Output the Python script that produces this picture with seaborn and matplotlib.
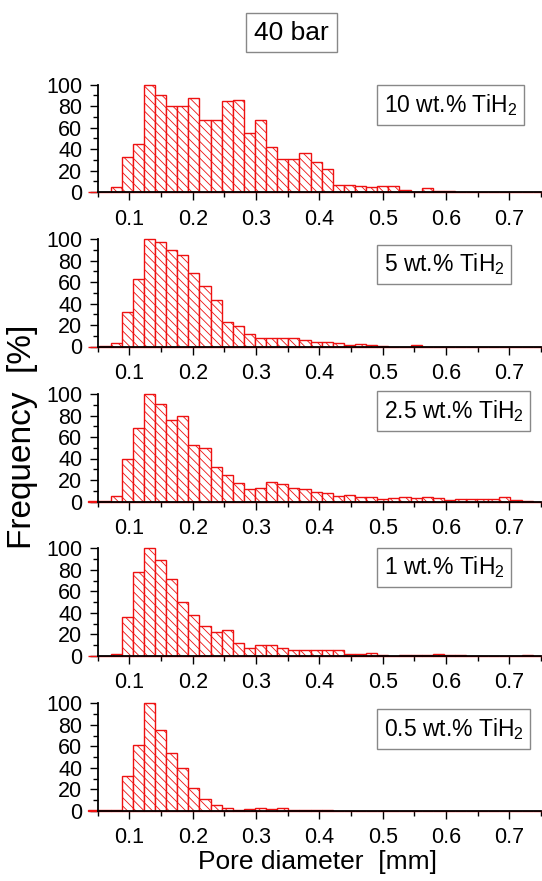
import numpy as np
import pandas as pd
import matplotlib
matplotlib.use("Agg")
import matplotlib.pyplot as plt
import seaborn as sns
from matplotlib.ticker import MultipleLocator

# ---------------- data ----------------
title = "40 bar"
panel_labels = ["10 wt.% TiH$_\\mathregular{2}$", "5 wt.% TiH$_\\mathregular{2}$",
                "2.5 wt.% TiH$_\\mathregular{2}$", "1 wt.% TiH$_\\mathregular{2}$",
                "0.5 wt.% TiH$_\\mathregular{2}$"]
x_label = "Pore diameter  [mm]"
y_label = "Frequency  [%]"

bin_start = 0.0353   # left edge of first bin [mm]
bin_width = 0.01754  # bin width [mm]

freq_10 = [0.5, 0.5, 5, 33, 45, 100, 90, 80, 80, 88, 67, 67, 85, 86, 55, 67, 42, 31, 31, 36,
           28, 22, 7, 7, 5.5, 4.6, 6, 6, 2, 0.5, 4, 1, 1, 0, 0, 0, 0, 0, 0, 0, 0]
freq_5 = [0, 0.5, 3, 32, 63, 100, 97, 90, 85, 68, 56, 43, 23, 19, 12, 8, 7.5, 7.5, 7.5, 6,
          4, 4.6, 3, 1.5, 2, 1, 0.3, 0, 0, 1, 0, 0, 0, 0, 0, 0, 0, 0, 0, 0, 0]
freq_2_5 = [0.3, 0.5, 5, 40, 68, 100, 91, 76, 80, 53, 50, 32, 25, 17, 12, 13, 18, 16, 13, 12,
            9, 8, 5.5, 6, 4.6, 4.6, 2, 3, 4.6, 3, 4, 3, 1.5, 2.5, 2.5, 2, 2.5, 4, 1.5, 0.3, 0]
freq_1 = [0, 0, 2, 36.5, 78, 100, 89, 71, 50, 38, 28, 22, 24, 12, 7, 10, 10, 7, 5, 5.5,
          5, 5, 5, 1.5, 1.5, 2.5, 1, 0, 1, 1, 0.3, 1.5, 0.5, 0.5, 0, 0, 0, 0, 0, 0.5, 0]
freq_0_5 = [0.5, 1, 0.5, 32.5, 61, 100, 75, 54, 40, 21, 11, 5.5, 3, 1.2, 2, 3, 2, 2.5, 1, 0.6,
            0.3, 0.3, 0, 0, 0, 0, 0, 0, 0, 0, 0, 0, 0, 0, 0, 0, 0, 0, 0, 0, 0]
series = [freq_10, freq_5, freq_2_5, freq_1, freq_0_5]

# ---------------- style ----------------
sns.set_style("ticks")
plt.rcParams["font.family"] = ["Liberation Sans", "DejaVu Sans"]
plt.rcParams["mathtext.fontset"] = "custom"
plt.rcParams["mathtext.rm"] = "Liberation Sans"
plt.rcParams["mathtext.it"] = "Liberation Sans:italic"
plt.rcParams["hatch.linewidth"] = 0.6
plt.rcParams["hatch.color"] = "#f03a3a"
for key in ("text.color", "axes.labelcolor", "xtick.color", "ytick.color",
            "xtick.labelcolor", "ytick.labelcolor"):
    plt.rcParams[key] = "black"

W, H = 542, 881
fig = plt.figure(figsize=(W / 100, H / 100), dpi=100)

ax_left = 97.7 / W
ax_w = (541 - 97.7) / W
tops = [84.7, 239.0, 394.0, 548.3, 703.3]
ax_hpx = 107.5
label_y = [0.811, 0.763, 0.842, 0.821, 0.761]

n_bins = len(freq_10)
centers = bin_start + bin_width * (np.arange(n_bins) + 0.5)
bin_range = (bin_start, bin_start + bin_width * n_bins)

for i, (vals, lab) in enumerate(zip(series, panel_labels)):
    bottom = 1 - (tops[i] + ax_hpx) / H
    ax = fig.add_axes([ax_left, bottom, ax_w, ax_hpx / H])
    df = pd.DataFrame({"d": centers, "f": np.asarray(vals, dtype=float)})
    sns.histplot(data=df, x="d", weights="f", binwidth=bin_width, binrange=bin_range,
                 ax=ax, stat="count", element="bars", fill=True, color="white",
                 alpha=1, linewidth=1.0, edgecolor="#ee1111")
    for p in ax.patches:
        p.set_facecolor("white")
        p.set_edgecolor("#ee1111")
        p.set_hatch("\\\\\\\\")
        p.set_clip_on(False)
    ax.set_xlim(0.05, 0.75)
    ax.set_ylim(0, 100)
    ax.xaxis.set_minor_locator(MultipleLocator(0.05))
    ax.yaxis.set_major_locator(MultipleLocator(20))
    ax.yaxis.set_minor_locator(MultipleLocator(10))
    xt = [0.1, 0.2, 0.3, 0.4, 0.5, 0.6, 0.7]
    ax.set_xticks(xt)
    ax.set_xticklabels([f"{v:.1f}" for v in xt])
    ax.tick_params(axis="both", which="major", direction="out", length=6, width=1.0,
                   labelsize=15.5, color="black", labelcolor="black")
    ax.tick_params(axis="x", which="major", pad=6)
    ax.tick_params(axis="y", which="major", pad=5)
    ax.tick_params(axis="both", which="minor", direction="out", length=3.5, width=1.0,
                   color="black")
    ax.set_xlabel("")
    ax.set_ylabel("")
    sns.despine(ax=ax, top=True, right=True)
    for s in ("left", "bottom"):
        ax.spines[s].set_linewidth(1.3)
        ax.spines[s].set_color("black")
        ax.spines[s].set_zorder(3)
    ax.patch.set_alpha(0)
    ax.text(0.645, label_y[i], lab, transform=ax.transAxes, ha="left", va="center",
            fontsize=16.5, color="black",
            bbox=dict(boxstyle="square,pad=0.3", fc="white", ec="#888888", lw=1.0))

fig.text(291.5 / W, 1 - 32.5 / H, title, ha="center", va="center", fontsize=19,
         color="black",
         bbox=dict(boxstyle="square,pad=0.3", fc="white", ec="#888888", lw=1.0))
fig.text(318 / W, 1 - 862 / H, x_label, ha="center", va="center", fontsize=19,
         color="black")
fig.text(23 / W, 1 - 437 / H, y_label, ha="center", va="center", fontsize=24,
         rotation=90, color="black")

fig.savefig("out.png", dpi=100)
